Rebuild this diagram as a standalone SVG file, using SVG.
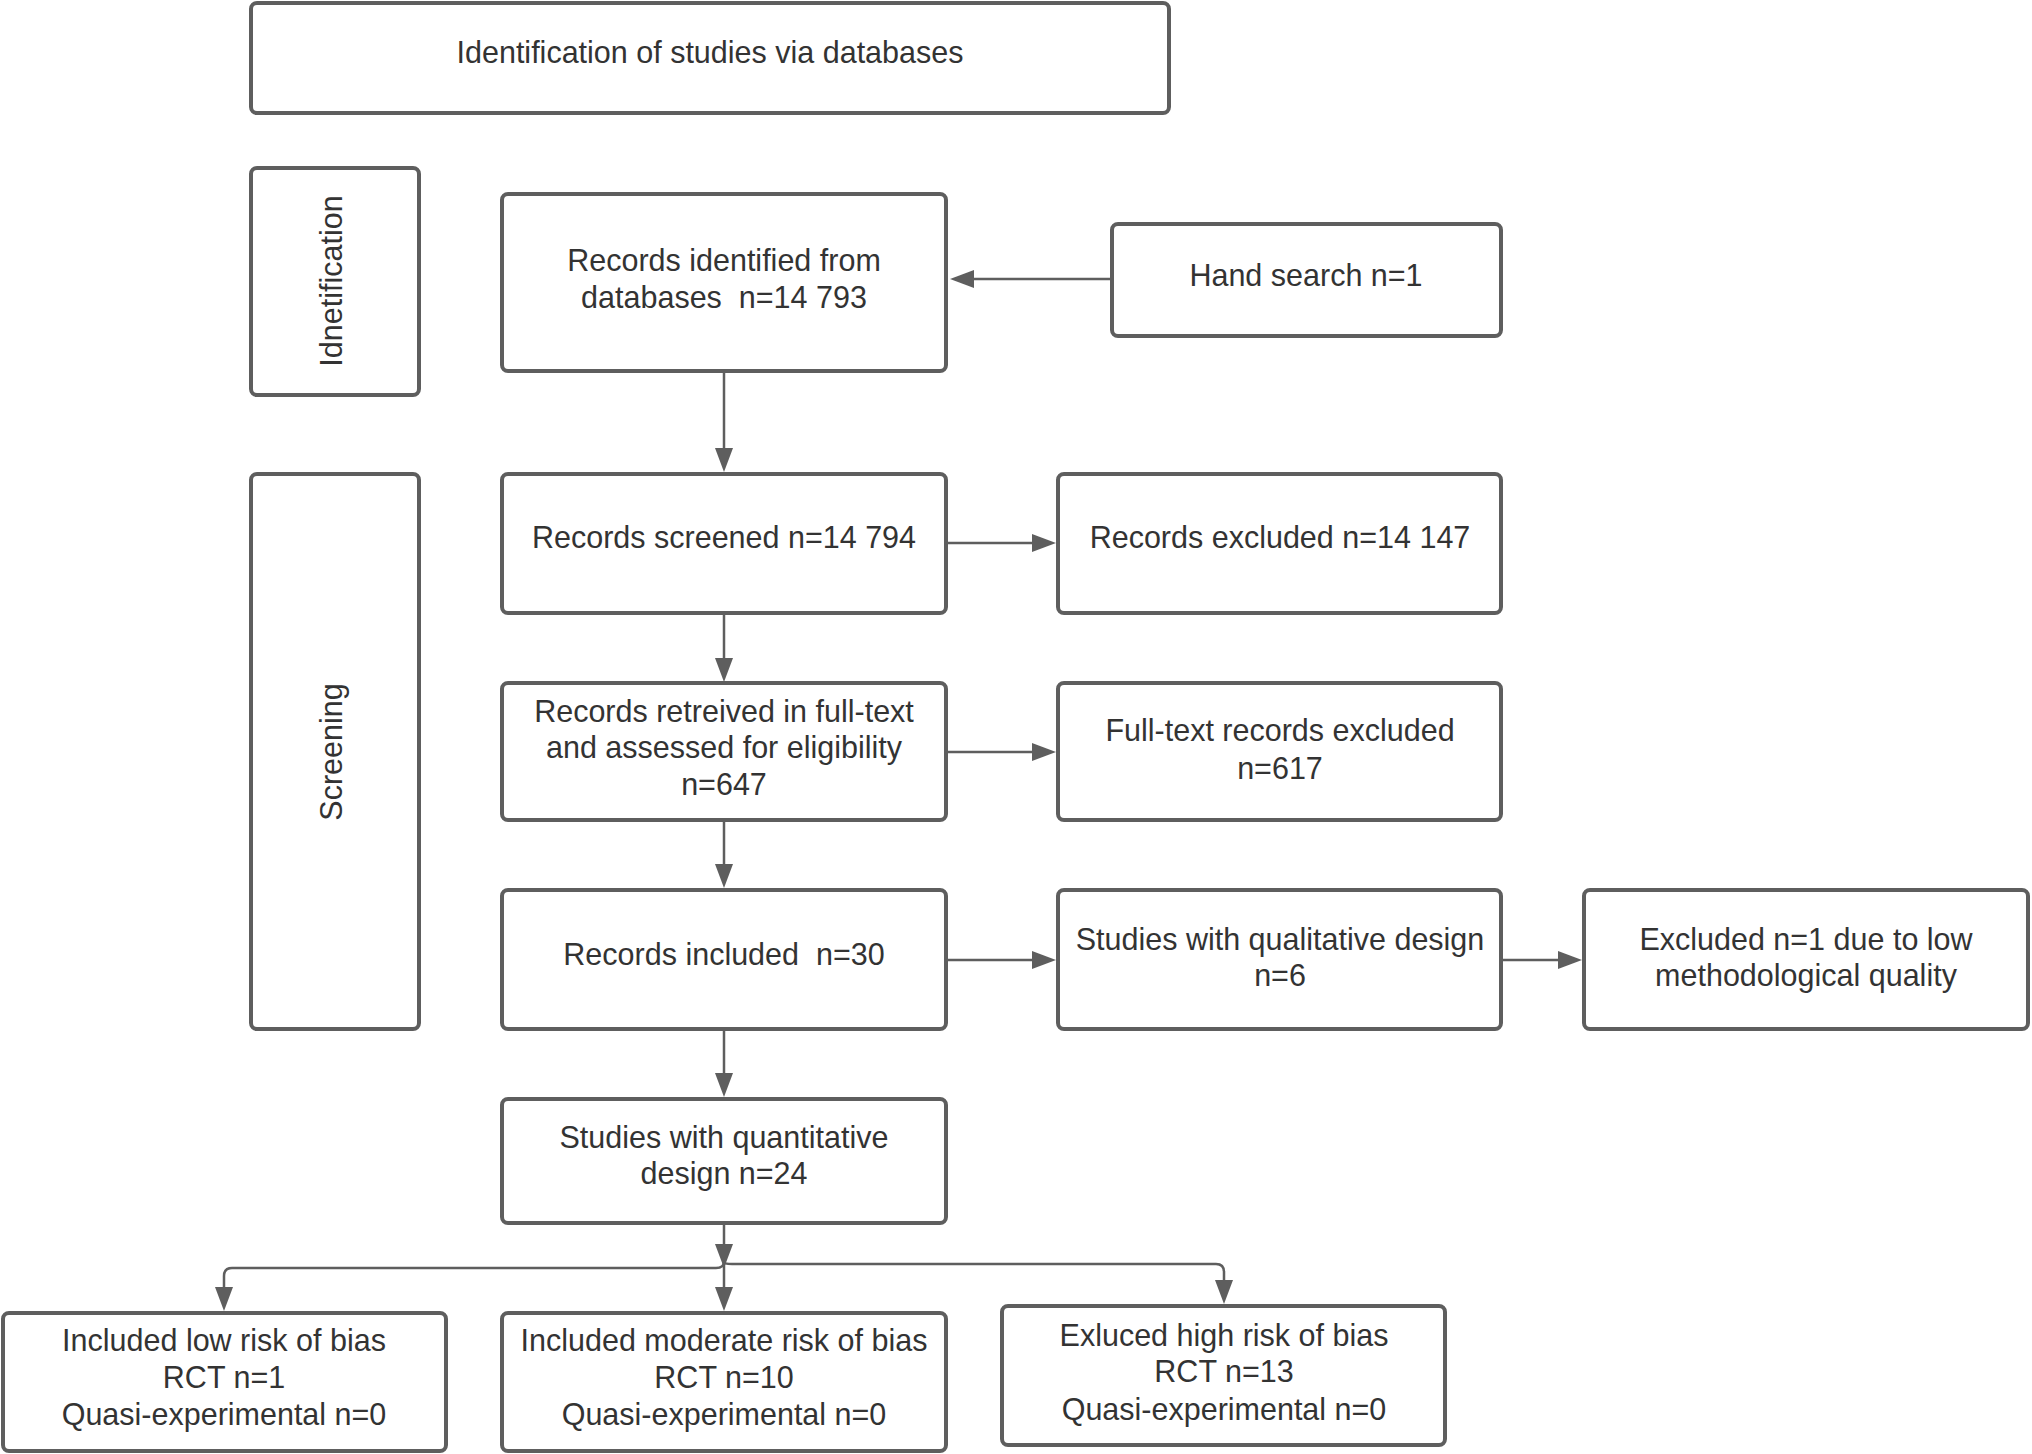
<svg xmlns="http://www.w3.org/2000/svg" width="2032" height="1454" viewBox="0 0 2032 1454">
<style>
.box{fill:#fff;stroke:#5e5e5e;stroke-width:4}
.t{font-family:"Liberation Sans",Arial,sans-serif;font-size:30.5px;fill:#333;text-anchor:middle;white-space:pre}
.c{fill:none;stroke:#5e5e5e;stroke-width:2.5}
.h{fill:#5e5e5e}
</style>
<rect width="2032" height="1454" fill="#fff"/>
<g id="connectors">
<line class="c" x1="1112" y1="279" x2="960" y2="279"/>
<path class="h" d="M950,279 l24,-9 v18 z"/>
<line class="c" x1="724" y1="371" x2="724" y2="450"/>
<path class="h" d="M724,472 l-9,-24 h18 z"/>
<line class="c" x1="946" y1="543" x2="1035" y2="543"/>
<path class="h" d="M1056,543 l-24,-9 v18 z"/>
<line class="c" x1="724" y1="613" x2="724" y2="660"/>
<path class="h" d="M724,682 l-9,-24 h18 z"/>
<line class="c" x1="946" y1="752" x2="1035" y2="752"/>
<path class="h" d="M1056,752 l-24,-9 v18 z"/>
<line class="c" x1="724" y1="820" x2="724" y2="866"/>
<path class="h" d="M724,888 l-9,-24 h18 z"/>
<line class="c" x1="946" y1="960" x2="1035" y2="960"/>
<path class="h" d="M1056,960 l-24,-9 v18 z"/>
<line class="c" x1="1501" y1="960" x2="1561" y2="960"/>
<path class="h" d="M1582,960 l-24,-9 v18 z"/>
<line class="c" x1="724" y1="1029" x2="724" y2="1075"/>
<path class="h" d="M724,1097 l-9,-24 h18 z"/>
<line class="c" x1="724" y1="1223" x2="724" y2="1290"/>
<path class="h" d="M724,1268 l-9,-24 h18 z"/>
<path class="h" d="M724,1311 l-9,-24 h18 z"/>
<path class="c" d="M724,1262 q0,6 -8,6 H232 q-8,0 -8,8 V1290"/>
<path class="h" d="M224,1311 l-9,-24 h18 z"/>
<path class="c" d="M724,1262 q0,2 8,2 H1216 q8,0 8,8 V1283"/>
<path class="h" d="M1224,1304 l-9,-24 h18 z"/>
</g>
<g id="n-title"><rect class="box" x="251" y="3" width="918" height="110" rx="6"/><text class="t" x="710" y="63">Identification of studies via databases</text></g>
<g id="n-ident-label"><rect class="box" x="251" y="168" width="168" height="227" rx="6"/><text class="t" transform="translate(342,281) rotate(-90)">Idnetification</text></g>
<g id="n-screen-label"><rect class="box" x="251" y="474" width="168" height="555" rx="6"/><text class="t" transform="translate(342,752) rotate(-90)">Screening</text></g>
<g id="n-identified"><rect class="box" x="502" y="194" width="444" height="177" rx="6"/><text class="t" x="724" y="271">Records identified from</text><text class="t" x="724" y="308">databases  n=14 793</text></g>
<g id="n-hand"><rect class="box" x="1112" y="224" width="389" height="112" rx="6"/><text class="t" x="1306" y="286">Hand search n=1</text></g>
<g id="n-screened"><rect class="box" x="502" y="474" width="444" height="139" rx="6"/><text class="t" x="724" y="548">Records screened n=14 794</text></g>
<g id="n-excluded"><rect class="box" x="1058" y="474" width="443" height="139" rx="6"/><text class="t" x="1280" y="548">Records excluded n=14 147</text></g>
<g id="n-retrieved"><rect class="box" x="502" y="683" width="444" height="137" rx="6"/><text class="t" x="724" y="722">Records retreived in full-text</text><text class="t" x="724" y="758">and assessed for eligibility</text><text class="t" x="724" y="795">n=647</text></g>
<g id="n-ftexcluded"><rect class="box" x="1058" y="683" width="443" height="137" rx="6"/><text class="t" x="1280" y="741">Full-text records excluded</text><text class="t" x="1280" y="779">n=617</text></g>
<g id="n-included"><rect class="box" x="502" y="890" width="444" height="139" rx="6"/><text class="t" x="724" y="965">Records included  n=30</text></g>
<g id="n-qual"><rect class="box" x="1058" y="890" width="443" height="139" rx="6"/><text class="t" x="1280" y="950">Studies with qualitative design</text><text class="t" x="1280" y="986">n=6</text></g>
<g id="n-lowqual"><rect class="box" x="1584" y="890" width="444" height="139" rx="6"/><text class="t" x="1806" y="950">Excluded n=1 due to low</text><text class="t" x="1806" y="986">methodological quality</text></g>
<g id="n-quant"><rect class="box" x="502" y="1099" width="444" height="124" rx="6"/><text class="t" x="724" y="1148">Studies with quantitative</text><text class="t" x="724" y="1184">design n=24</text></g>
<g id="n-low"><rect class="box" x="3" y="1313" width="443" height="138" rx="6"/><text class="t" x="224" y="1351">Included low risk of bias</text><text class="t" x="224" y="1388">RCT n=1</text><text class="t" x="224" y="1425">Quasi-experimental n=0</text></g>
<g id="n-mod"><rect class="box" x="502" y="1313" width="444" height="138" rx="6"/><text class="t" x="724" y="1351">Included moderate risk of bias</text><text class="t" x="724" y="1388">RCT n=10</text><text class="t" x="724" y="1425">Quasi-experimental n=0</text></g>
<g id="n-high"><rect class="box" x="1002" y="1306" width="443" height="139" rx="6"/><text class="t" x="1224" y="1346">Exluced high risk of bias</text><text class="t" x="1224" y="1382">RCT n=13</text><text class="t" x="1224" y="1420">Quasi-experimental n=0</text></g>
</svg>
